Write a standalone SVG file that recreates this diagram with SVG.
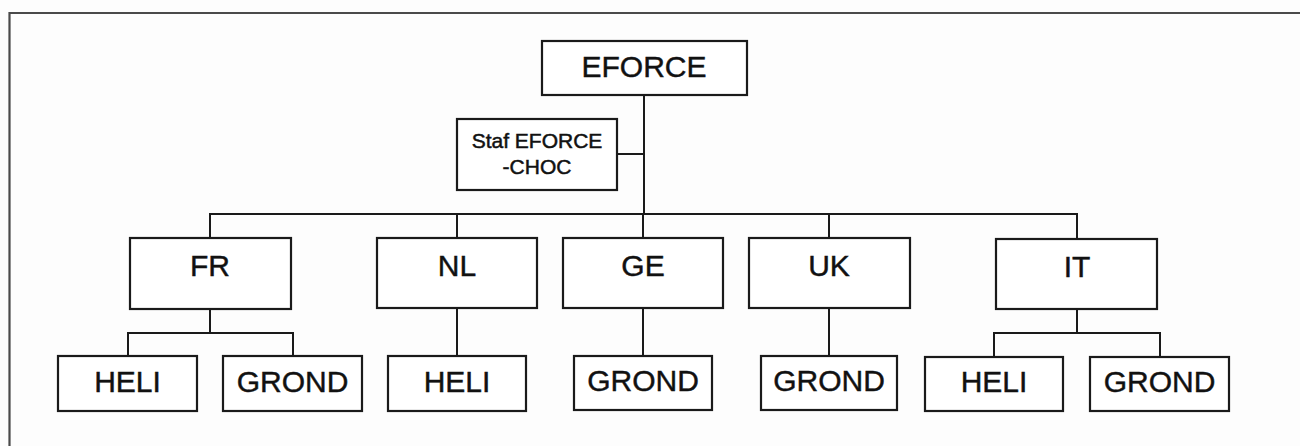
<svg xmlns="http://www.w3.org/2000/svg" width="1300" height="446" viewBox="0 0 1300 446">
  <style>
    .box { fill: #ffffff; stroke: #1a1a1a; stroke-width: 2.2; }
    .lbl { font-family: "Liberation Sans", Arial, sans-serif; font-size: 30px; fill: #111111; stroke: #111111; stroke-width: 0.45; text-anchor: middle; }
    .small { font-size: 21px; stroke-width: 0.5; }
    .conn line { stroke: #1a1a1a; stroke-width: 2; }
    .frame { stroke: #4a4a4a; stroke-width: 2.2; fill: none; }
  </style>
  <rect x="0" y="0" width="1300" height="446" fill="#fdfdfd"/>
  <path class="frame" d="M9.5,446 L9.5,13 L1300,13"/>

  <g id="connectors" class="conn">
    <line x1="644" y1="95" x2="644" y2="214"/>
    <line x1="617" y1="154" x2="644" y2="154"/>
    <line x1="209" y1="214" x2="1078" y2="214"/>
    <line x1="210" y1="214" x2="210" y2="238"/>
    <line x1="457" y1="214" x2="457" y2="238"/>
    <line x1="643" y1="214" x2="643" y2="238"/>
    <line x1="829" y1="214" x2="829" y2="238"/>
    <line x1="1077" y1="214" x2="1077" y2="239"/>
    <line x1="210" y1="309" x2="210" y2="333"/>
    <line x1="127" y1="333" x2="294" y2="333"/>
    <line x1="128" y1="333" x2="128" y2="356"/>
    <line x1="293" y1="333" x2="293" y2="356"/>
    <line x1="457" y1="308" x2="457" y2="356"/>
    <line x1="643" y1="308" x2="643" y2="356"/>
    <line x1="829" y1="308" x2="829" y2="356"/>
    <line x1="1077" y1="309" x2="1077" y2="333"/>
    <line x1="993" y1="333" x2="1161" y2="333"/>
    <line x1="994" y1="333" x2="994" y2="357"/>
    <line x1="1160" y1="333" x2="1160" y2="357"/>
  </g>

  <g id="node-eforce">
    <rect class="box" x="542" y="41" width="205" height="54"/>
    <text class="lbl" x="644" y="77">EFORCE</text>
  </g>
  <g id="node-staf">
    <rect class="box" x="457" y="119" width="160" height="71"/>
    <text class="lbl small" x="537" y="148">Staf EFORCE</text>
    <text class="lbl small" x="537" y="174">-CHOC</text>
  </g>

  <g id="node-fr">
    <rect class="box" x="130" y="238" width="161" height="71"/>
    <text class="lbl" x="210" y="276">FR</text>
  </g>
  <g id="node-nl">
    <rect class="box" x="377" y="238" width="160" height="70"/>
    <text class="lbl" x="457" y="276">NL</text>
  </g>
  <g id="node-ge">
    <rect class="box" x="563" y="238" width="160" height="70"/>
    <text class="lbl" x="643" y="276">GE</text>
  </g>
  <g id="node-uk">
    <rect class="box" x="749" y="238" width="161" height="70"/>
    <text class="lbl" x="829" y="276">UK</text>
  </g>
  <g id="node-it">
    <rect class="box" x="996" y="239" width="161" height="70"/>
    <text class="lbl" x="1077" y="277">IT</text>
  </g>

  <g id="node-fr-heli">
    <rect class="box" x="58" y="356" width="139" height="55"/>
    <text class="lbl" x="127.5" y="392">HELI</text>
  </g>
  <g id="node-fr-grond">
    <rect class="box" x="223" y="356" width="139" height="55"/>
    <text class="lbl" x="292.5" y="392">GROND</text>
  </g>
  <g id="node-nl-heli">
    <rect class="box" x="388" y="356" width="138" height="55"/>
    <text class="lbl" x="457" y="392">HELI</text>
  </g>
  <g id="node-ge-grond">
    <rect class="box" x="574" y="356" width="138" height="54"/>
    <text class="lbl" x="643" y="391">GROND</text>
  </g>
  <g id="node-uk-grond">
    <rect class="box" x="761" y="356" width="136" height="54"/>
    <text class="lbl" x="829" y="391">GROND</text>
  </g>
  <g id="node-it-heli">
    <rect class="box" x="925" y="357" width="138" height="54"/>
    <text class="lbl" x="994" y="392">HELI</text>
  </g>
  <g id="node-it-grond">
    <rect class="box" x="1090" y="357" width="139" height="54"/>
    <text class="lbl" x="1159.5" y="392">GROND</text>
  </g>
</svg>
